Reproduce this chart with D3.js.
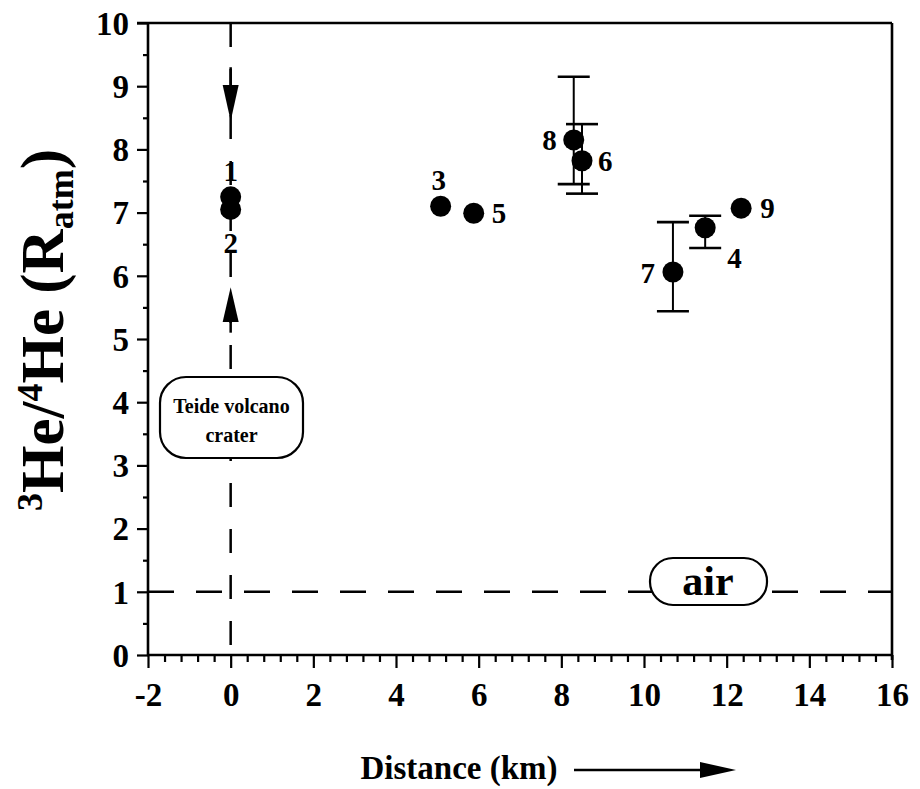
<!DOCTYPE html>
<html><head><meta charset="utf-8">
<script src="https://cdn.jsdelivr.net/npm/d3@7"></script>
<style>
html,body{margin:0;padding:0;background:#fff;}
svg text{font-family:"Liberation Serif","Times New Roman",serif;font-weight:bold;fill:#000;}
</style></head>
<body>
<svg id="c" width="920" height="789"></svg>
<script>
// ---- data ----
const sampleIds   = ["1","2","3","5","8","6","7","4","9"];
const distanceKm  = [0, 0, 5.08, 5.88, 8.3, 8.5, 10.7, 11.48, 12.35];
const heRatio     = [7.25, 7.05, 7.1, 6.99, 8.15, 7.82, 6.06, 6.76, 7.07];
const errLow      = [null, null, null, null, 7.45, 7.3, 5.44, 6.44, null];
const errHigh     = [null, null, null, null, 9.15, 8.4, 6.85, 6.95, null];
const xTicks      = [-2, 0, 2, 4, 6, 8, 10, 12, 14, 16];
const xTickLabels = ["-2", "0", "2", "4", "6", "8", "10", "12", "14", "16"];
const yTicks      = [0, 1, 2, 3, 4, 5, 6, 7, 8, 9, 10];
const airLevel    = 1;
const craterX     = 0;

// ---- layout ----
const svg = d3.select("#c");
const x = d3.scaleLinear().domain([-2, 16]).range([148, 892]);
const y = d3.scaleLinear().domain([0, 10]).range([655, 23]);
const L = x.range()[0], R = x.range()[1], B = y.range()[0], T = y.range()[1];

// label offsets (styling)
const labelOff = {
  "1": [0, -16, "middle"], "2": [0, 44, "middle"], "3": [-2, -16, "middle"],
  "5": [18, 10, "start"], "8": [-17, 10, "end"], "6": [16, 10, "start"],
  "7": [-18, 11, "end"], "4": [22, 40, "start"], "9": [19, 10, "start"]
};

// vertical dashed line at crater
svg.append("line").attr("x1", x(craterX)).attr("x2", x(craterX))
  .attr("y1", T).attr("y2", B)
  .attr("stroke", "#000").attr("stroke-width", 2.5)
  .attr("stroke-dasharray", "24,22");
// horizontal dashed air line
svg.append("line").attr("x1", L).attr("x2", R)
  .attr("y1", y(airLevel)).attr("y2", y(airLevel))
  .attr("stroke", "#000").attr("stroke-width", 2.5)
  .attr("stroke-dasharray", "26,22");

// arrows on crater line
const cx0 = x(craterX);
function arrow(tipVal, baseVal) {
  const ty = y(tipVal), by = y(baseVal);
  svg.append("path").attr("d", `M${cx0-8},${by} L${cx0+8},${by} L${cx0},${ty} Z`).attr("fill", "#000");
}
svg.append("line").attr("x1", cx0).attr("x2", cx0).attr("y1", y(9.3)).attr("y2", y(9.0)).attr("stroke","#000").attr("stroke-width",2.5);
arrow(8.45, 9.02);
arrow(5.82, 5.27);
svg.append("line").attr("x1", cx0).attr("x2", cx0).attr("y1", y(5.27)).attr("y2", y(5.1)).attr("stroke","#000").attr("stroke-width",2.5);

// Teide box
svg.append("rect").attr("x", 160).attr("y", 377).attr("width", 143).attr("height", 81)
  .attr("rx", 26).attr("ry", 26).attr("fill", "#fff").attr("stroke", "#000").attr("stroke-width", 2.2);
svg.append("text").attr("x", 231.5).attr("y", 413).attr("text-anchor", "middle").attr("font-size", 20).text("Teide volcano");
svg.append("text").attr("x", 231.5).attr("y", 442).attr("text-anchor", "middle").attr("font-size", 20).text("crater");

// air box
svg.append("rect").attr("x", 650).attr("y", 558).attr("width", 117).attr("height", 47)
  .attr("rx", 23).attr("ry", 23).attr("fill", "#fff").attr("stroke", "#000").attr("stroke-width", 2.2);
svg.append("text").attr("x", 708).attr("y", 595).attr("text-anchor", "middle").attr("font-size", 42).text("air");

// axes
const yAxis = d3.axisLeft(y).tickValues(yTicks).tickSize(11).tickPadding(8).tickFormat(d => String(d));
const gy = svg.append("g").attr("transform", `translate(${L},0)`).call(yAxis);
const yMinor = d3.axisLeft(y).tickValues(d3.range(0.5, 10, 1)).tickSize(5).tickFormat("");
svg.append("g").attr("transform", `translate(${L},0)`).call(yMinor);

const xAxis = d3.axisBottom(x).tickValues(xTicks).tickSize(13).tickPadding(14)
  .tickFormat((d, i) => xTickLabels[i]);
const gx = svg.append("g").attr("transform", `translate(0,${B})`).call(xAxis);
const xMinorVals = [];
for (let i = 0; i < 45; i++) { const v = -2 + i * 0.4; if (i % 5 !== 0) xMinorVals.push(v); }
svg.append("g").attr("transform", `translate(0,${B})`).call(d3.axisBottom(x).tickValues(xMinorVals).tickSize(7).tickFormat(""));

svg.selectAll(".domain").remove();
svg.selectAll(".tick line").attr("stroke", "#000").attr("stroke-width", 2.2);
gy.selectAll(".tick text").attr("font-size", 33).attr("font-family", "Liberation Serif").attr("font-weight", "bold").attr("dy", "0.34em");
gx.selectAll(".tick text").attr("font-size", 33).attr("font-family", "Liberation Serif").attr("font-weight", "bold").attr("dy", "0.72em");

// frame lines
svg.append("line").attr("x1", L).attr("x2", L).attr("y1", T).attr("y2", B + 1).attr("stroke", "#000").attr("stroke-width", 2.6);
svg.append("line").attr("x1", L - 1).attr("x2", R).attr("y1", B).attr("y2", B).attr("stroke", "#000").attr("stroke-width", 2.6);
svg.append("line").attr("x1", L - 11).attr("x2", R).attr("y1", T).attr("y2", T).attr("stroke", "#000").attr("stroke-width", 2.6);
svg.append("line").attr("x1", R).attr("x2", R).attr("y1", T).attr("y2", B + 5).attr("stroke", "#000").attr("stroke-width", 2.6);

// error bars
const pts = sampleIds.map((id, i) => ({id, x: distanceKm[i], y: heRatio[i], lo: errLow[i], hi: errHigh[i]}));
const eb = svg.append("g");
pts.filter(d => d.lo !== null).forEach(d => {
  const px = x(d.x);
  eb.append("line").attr("x1", px).attr("x2", px).attr("y1", y(d.lo)).attr("y2", y(d.hi)).attr("stroke", "#000").attr("stroke-width", 2);
  [d.lo, d.hi].forEach(v => eb.append("line").attr("x1", px - 16).attr("x2", px + 16).attr("y1", y(v)).attr("y2", y(v)).attr("stroke", "#000").attr("stroke-width", 2.6));
});

// points
svg.append("g").selectAll("circle").data(pts).join("circle")
  .attr("cx", d => x(d.x)).attr("cy", d => y(d.y)).attr("r", 10.5).attr("fill", "#000");

// point labels
svg.append("g").selectAll("text").data(pts).join("text")
  .attr("x", d => x(d.x) + labelOff[d.id][0]).attr("y", d => y(d.y) + labelOff[d.id][1])
  .attr("text-anchor", d => labelOff[d.id][2]).attr("font-size", 29).text(d => d.id);

// y title
const yt = svg.append("text").attr("transform", "translate(63,330) rotate(-90)").attr("text-anchor", "middle").attr("font-size", 61);
yt.append("tspan").attr("font-size", 36).attr("dy", -21).text("3");
yt.append("tspan").attr("dy", 21).text("He/");
yt.append("tspan").attr("font-size", 36).attr("dy", -21).text("4");
yt.append("tspan").attr("dy", 21).text("He (R");
yt.append("tspan").attr("font-size", 36).attr("dy", 10).text("atm");
yt.append("tspan").attr("dy", -10).text(")");

// x title and arrow
svg.append("text").attr("x", 459).attr("y", 779).attr("text-anchor", "middle").attr("font-size", 33).text("Distance (km)");
svg.append("line").attr("x1", 574).attr("x2", 712).attr("y1", 770).attr("y2", 770).attr("stroke", "#000").attr("stroke-width", 2.5);
svg.append("path").attr("d", "M700,762 L736,770 L700,778 Z").attr("fill", "#000");
</script>
</body></html>
